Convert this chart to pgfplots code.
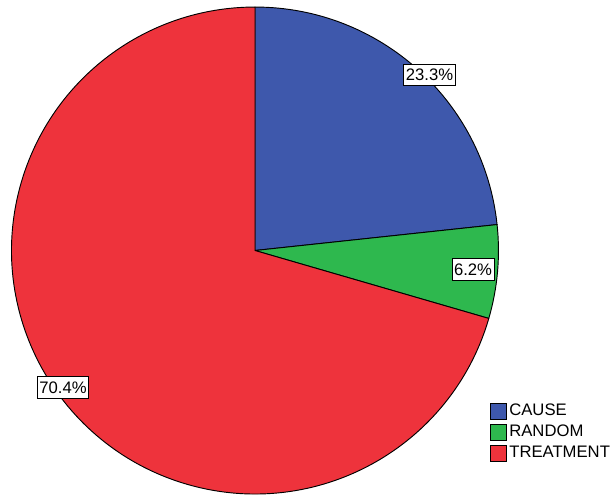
\documentclass[border=0pt]{standalone}
\usepackage{pgfplots}
\pgfplotsset{compat=1.18}
\usepackage{fontspec}
\setmainfont{Liberation Sans}
\definecolor{cblue}{RGB}{62,88,172}
\definecolor{cgreen}{RGB}{46,184,78}
\definecolor{cred}{RGB}{238,51,60}
% percentages
\def\vCause{23.3}
\def\vRandom{6.2}
\def\vTreat{70.4}
\pgfmathsetmacro{\aA}{90}
\pgfmathsetmacro{\aB}{90-\vCause*3.6}
\pgfmathsetmacro{\aC}{\aB-\vRandom*3.6}
\pgfmathsetmacro{\aD}{-270}
\begin{document}
\begin{tikzpicture}
\begin{axis}[
  x=0.75pt, y=0.75pt,
  xmin=0, xmax=613, ymin=0, ymax=494,
  hide axis, clip=false,
  legend style={at={(axis cs:490,91.5)}, anchor=north west, draw=none, fill=none,
    inner sep=0pt, outer sep=0pt, font=\fontsize{12.5}{12.5}\selectfont, row sep=3.4pt,
    nodes={inner xsep=2pt, inner ysep=0pt}},
  legend cell align=left,
  legend image code/.code={\filldraw[#1, draw=black, line width=0.5pt] (0pt,-6pt) rectangle (12pt,6pt);},
]
\coordinate (SW) at (axis cs:0,0);
\coordinate (NE) at (axis cs:613,494);
\addlegendimage{fill=cblue}
\addlegendentry{CAUSE}
\addlegendimage{fill=cgreen}
\addlegendentry{RANDOM}
\addlegendimage{fill=cred}
\addlegendentry{TREATMENT}
\filldraw[fill=cblue, draw=black, line width=0.7pt, line join=round] (axis cs:255,243.5) -- ++(\aA:182.6pt) arc[start angle=\aA, end angle=\aB, radius=182.6pt] -- cycle;
\filldraw[fill=cgreen, draw=black, line width=0.7pt, line join=round] (axis cs:255,243.5) -- ++(\aB:182.6pt) arc[start angle=\aB, end angle=\aC, radius=182.6pt] -- cycle;
\filldraw[fill=cred, draw=black, line width=0.7pt, line join=round] (axis cs:255,243.5) -- ++(\aC:182.6pt) arc[start angle=\aC, end angle=\aD, radius=182.6pt] -- cycle;
\node[draw=black, fill=white, line width=0.6pt, inner xsep=1.5pt, inner ysep=0pt, minimum height=16pt, font=\fontsize{12.5}{12.5}\selectfont] at (axis cs:429.5,419) {\vCause\%};
\node[draw=black, fill=white, line width=0.6pt, inner xsep=1.5pt, inner ysep=0pt, minimum height=16pt, font=\fontsize{12.5}{12.5}\selectfont] at (axis cs:473,224.5) {\vRandom\%};
\node[draw=black, fill=white, line width=0.6pt, inner xsep=1.5pt, inner ysep=0pt, minimum height=16pt, font=\fontsize{12.5}{12.5}\selectfont] at (axis cs:63,106.5) {\vTreat\%};
\end{axis}
\pgfresetboundingbox
\path (SW) rectangle (NE);
\end{tikzpicture}
\end{document}
